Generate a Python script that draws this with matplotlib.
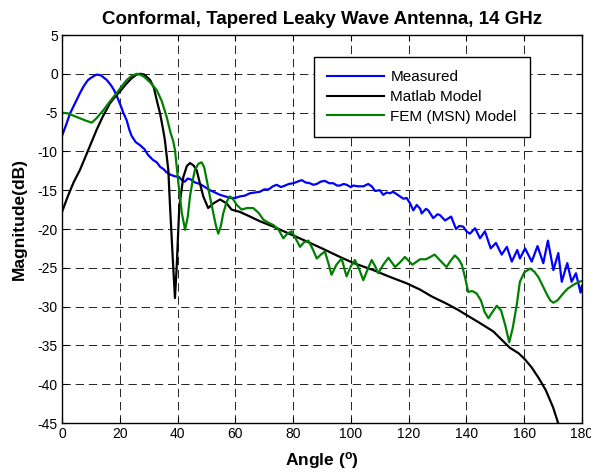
import matplotlib
matplotlib.use("Agg")
import matplotlib.pyplot as plt

plt.rcParams['font.family'] = ['Liberation Sans', 'DejaVu Sans']
plt.rcParams['mathtext.fontset'] = 'custom'
plt.rcParams['mathtext.rm'] = 'Liberation Sans'
plt.rcParams['mathtext.bf'] = 'Liberation Sans:bold'
plt.rcParams['lines.scale_dashes'] = False
plt.rcParams['axes.unicode_minus'] = False

title = "Conformal, Tapered Leaky Wave Antenna, 14 GHz"
xlabel = r"Angle ($\mathbf{^{o}}$)"
ylabel = "Magnitude(dB)"
xticks = [0, 20, 40, 60, 80, 100, 120, 140, 160, 180]
yticks = [5, 0, -5, -10, -15, -20, -25, -30, -35, -40, -45]
labels = ["Measured", "Matlab Model", "FEM (MSN) Model"]

meas_angle = [0, 1.5, 2.8, 4.5, 6.2, 7.5, 9, 10.5, 12, 13.5, 15.5, 17, 18, 19, 20, 21.2, 22.4, 23.3,
              24.1, 25.5, 27, 28.5, 29.9, 31.5, 32.8, 34, 35.2, 36.2, 37.5, 39, 40.5, 41.5, 42.5,
              43.5, 44.5, 46, 47.8, 49.5, 51.2, 53, 54.7, 56.5, 58.2, 60, 61.6, 63.3, 65, 66.7,
              68.5, 70, 71.5, 73, 74.3, 75.8, 77.2, 78.5, 80.1, 81.5, 83, 84.3, 85.8, 87, 88.2,
              89.5, 91, 92.5, 93.9, 95.2, 96.2, 97.5, 98.5, 100, 100.8, 102.5, 104.3, 106, 107.2,
              108.4, 110, 111.2, 112.4, 113.5, 114.6, 115.8, 117, 118.2, 119.3, 120.5, 121.6,
              122.8, 124.0, 124.5, 126, 126.8, 128.5, 130, 130.8, 132.6, 134.7, 136.4, 137.5,
              138.9, 140, 141.2, 143, 144.7, 146.4, 148.4, 150.2, 152.2, 154.0, 155.7, 157.6,
              158.5, 160.3, 162.6, 164.6, 166.6, 168.2, 170.1, 171.8, 173.0, 174.9, 176.4,
              177.9, 179.5, 180]
meas_db = [-8.0, -6.5, -5.1, -3.8, -2.5, -1.6, -0.8, -0.4, -0.1, -0.2, -0.8, -1.5, -2.1, -2.9,
           -3.8, -5.0, -6.0, -7.2, -8.0, -8.8, -9.2, -9.7, -10.5, -11.1, -11.4, -12.0, -12.3,
           -12.7, -13.0, -13.2, -13.3, -13.7, -13.9, -13.5, -13.6, -14.0, -14.2, -14.6, -15.0,
           -15.3, -15.6, -15.8, -16.0, -16.0, -15.8, -15.7, -15.4, -15.3, -15.2, -14.9, -14.9,
           -14.5, -14.3, -14.6, -14.4, -14.2, -14.1, -13.9, -13.7, -14.0, -14.1, -14.3, -14.2,
           -13.9, -13.8, -14.1, -14.1, -14.4, -14.4, -14.2, -14.3, -14.6, -14.4, -14.5, -14.5,
           -14.2, -14.5, -15.1, -15.0, -15.6, -15.3, -15.4, -15.2, -15.5, -15.8, -16.1, -16.0,
           -16.7, -17.6, -16.9, -17.4, -18.0, -17.4, -17.6, -18.6, -18.1, -18.2, -18.9, -18.4,
           -20.0, -19.6, -19.7, -20.3, -20.6, -19.9, -21.2, -20.3, -22.5, -21.8, -23.3, -22.3,
           -24.2, -22.7, -23.8, -22.5, -24.2, -22.2, -24.4, -21.5, -25.3, -23.1, -26.8, -24.4,
           -26.8, -25.7, -28.2, -27.3]

matlab_angle = [0, 2, 4, 6.2, 8, 10, 12, 14, 16.6, 18.5, 20, 22, 24, 25.8, 27, 28.5, 30.5, 31.8,
                32.8, 34, 35, 35.6, 36.8, 37.4, 38.5, 39.1, 39.7, 40.6, 42, 43.2, 44.3, 45.5,
                46.6, 47.8, 48.9, 50.6, 52.4, 54.7, 57, 58.7, 61.6, 65.1, 68.5, 73.2, 78, 84.7,
                90, 96.2, 101, 107.8, 113, 119.3, 123.9, 128, 133, 137, 141, 145, 149.3, 152,
                155, 158, 160, 162.5, 165, 167.5, 170, 172]
matlab_db = [-17.8, -15.8, -14.0, -12.4, -10.8, -9.0, -7.2, -5.6, -3.8, -2.9, -2.3, -1.4, -0.6,
             -0.1, 0.0, -0.1, -0.8, -1.8, -3.4, -5.2, -7.2, -8.5, -12.4, -17.1, -24.9, -28.9,
             -24.9, -17.1, -13.3, -11.9, -11.5, -11.8, -12.4, -14.2, -15.8, -17.3, -16.7, -16.2,
             -16.7, -17.5, -17.8, -18.4, -19.0, -19.7, -20.5, -21.6, -22.5, -23.6, -24.4, -25.3,
             -26.1, -27.0, -27.8, -28.7, -29.6, -30.4, -31.3, -32.2, -33.2, -34.2, -35.3, -36.0,
             -36.7, -37.8, -39.2, -40.8, -43.0, -45.3]

fem_angle = [0, 2, 4, 6, 8, 10.3, 12, 14.3, 16.5, 18.9, 20.5, 22.4, 24, 25.8, 27, 28.5, 30.5,
             32.8, 34.5, 36.2, 37.5, 38.5, 39.1, 40.3, 41.5, 42.6, 43.5, 44.3, 45.2, 46, 47.2,
             48.3, 49.2, 50.1, 51.2, 52.4, 53.3, 54.1, 55, 55.8, 57, 58.1, 59.3, 60.5, 62.2, 64,
             66.2, 68, 69.7, 71.5, 73.2, 75, 76.6, 78, 79.5, 81, 82.4, 83.8, 85.3, 86.8, 88.2,
             89.6, 91, 92.2, 93.3, 95, 96.8, 97.6, 98.5, 100, 101.4, 103, 104.3, 105.8, 107.2,
             108.4, 109.5, 111.2, 113, 115.3, 117, 118.7, 121.3, 123.9, 126, 128, 129, 131,
             133.1, 134.5, 136, 137.3, 138.4, 139.5, 140.6, 142, 143.5, 145, 146.3, 147.6, 149,
             150.5, 152, 153.5, 154.8, 156, 157.4, 158.5, 160, 162, 163.5, 164.9, 166.5, 167.8,
             169, 170.1, 171.5, 173.5, 175, 177, 179, 180]
fem_db = [-5.0, -5.1, -5.4, -5.7, -6.0, -6.3, -5.7, -4.7, -3.6, -2.5, -1.7, -0.8, -0.3, 0.0,
          -0.1, -0.4, -1.1, -2.1, -3.5, -5.5, -7.5, -8.7, -9.8, -14.1, -18.0, -20.1, -18.5,
          -15.8, -13.8, -12.4, -11.6, -11.4, -12.0, -13.7, -15.8, -18.0, -19.6, -20.6, -19.6,
          -18.0, -16.5, -15.8, -16.2, -16.9, -17.5, -17.3, -17.3, -17.9, -18.8, -19.2, -19.5,
          -20.1, -21.2, -20.6, -20.3, -21.3, -22.3, -21.7, -21.5, -22.6, -23.8, -23.3, -22.9,
          -24.4, -25.9, -24.6, -23.8, -24.9, -26.1, -24.8, -24.0, -25.3, -26.6, -25.2, -24.0,
          -24.8, -25.7, -24.6, -23.7, -24.9, -24.3, -23.6, -24.6, -23.9, -23.9, -23.5, -23.3,
          -24.1, -24.9, -24.1, -23.4, -23.9, -24.6, -26.2, -28.1, -28.0, -28.3, -29.2, -30.7,
          -31.5, -30.7, -29.9, -30.5, -32.5, -34.6, -32.8, -29.8, -26.8, -25.6, -25.1, -25.5,
          -26.2, -27.4, -28.4, -29.2, -29.5, -29.2, -28.3, -27.7, -27.2, -26.8, -26.7]

fig = plt.figure(figsize=(5.91, 4.73), dpi=100)
ax = fig.add_axes([62 / 591, 1 - 423 / 473, 520 / 591, 388 / 473])

ax.plot(meas_angle, meas_db, color=(0, 0, 1), lw=1.6, label=labels[0])
ax.plot(matlab_angle, matlab_db, color='black', lw=1.6, label=labels[1])
ax.plot(fem_angle, fem_db, color=(0, 0.5, 0), lw=1.6, label=labels[2])

ax.set_xlim(0, 180)
ax.set_ylim(-45, 5)
ax.set_xticks(xticks)
ax.set_yticks(yticks)
ax.tick_params(direction='in', top=True, right=True, length=4.5, width=0.8,
               labelsize=10, colors='black', pad=3)
ax.grid(True, color='black', lw=0.6, linestyle=(0, (6, 3.5)))
for s in ax.spines.values():
    s.set_linewidth(1.0)
    s.set_color('black')

ax.set_title(title, fontsize=13.5, fontweight='bold', pad=8)
ax.set_xlabel(xlabel, fontsize=12.5, fontweight='bold', labelpad=6)
ax.set_ylabel(ylabel, fontsize=12.5, fontweight='bold', labelpad=5)
ax.yaxis.set_label_coords(-0.067, 0.525)

leg = ax.legend(loc='upper left', bbox_to_anchor=(0.4846, 0.943), fontsize=11,
                handlelength=3.7, handletextpad=0.45, labelspacing=0.38, borderpad=0.85,
                fancybox=False, framealpha=1, edgecolor='black', borderaxespad=0)
leg.get_frame().set_linewidth(1.0)
for l in leg.get_lines():
    l.set_linewidth(1.5)

fig.savefig("out.png", dpi=100)
